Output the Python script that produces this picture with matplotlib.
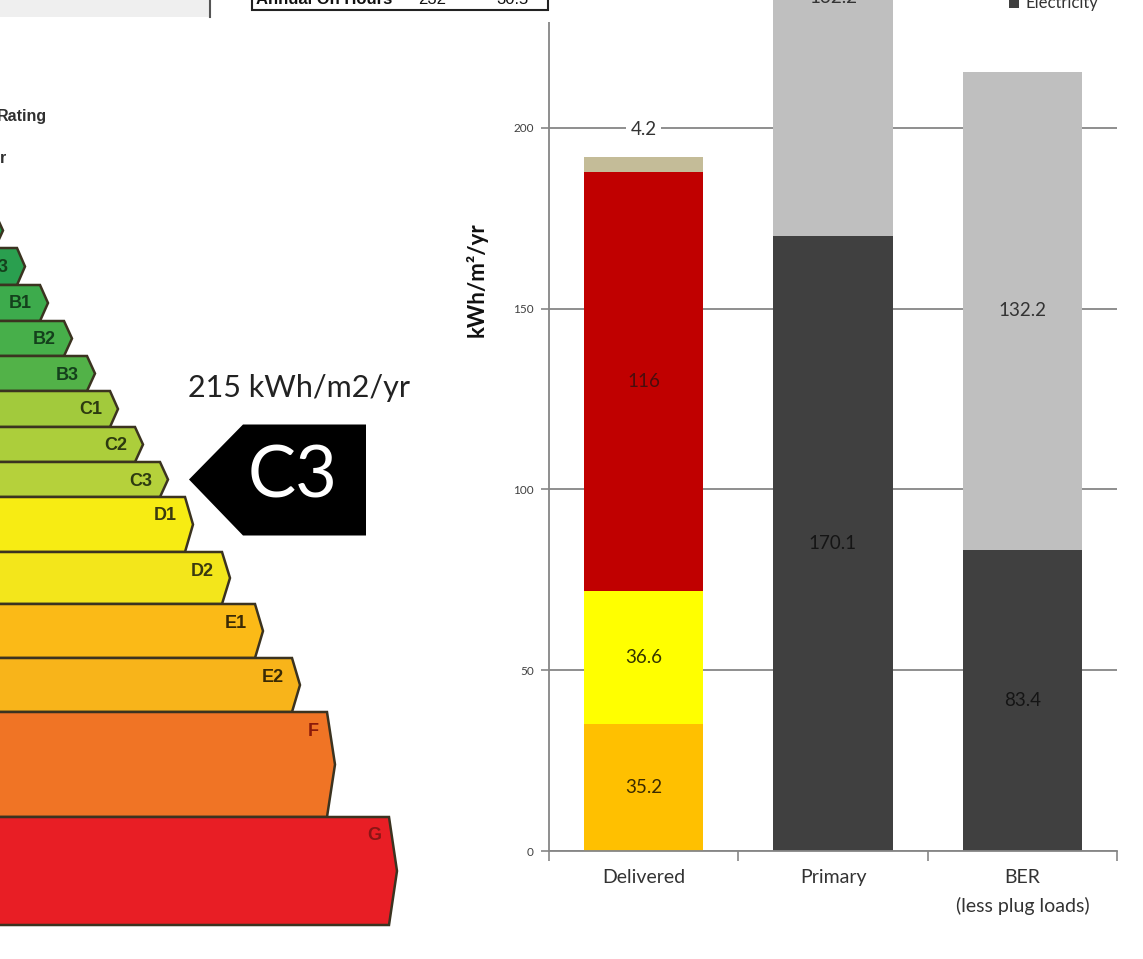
import matplotlib.pyplot as plt
from matplotlib.patches import Polygon, Rectangle

W, H = 1143, 959
PX = 3.615  # pixels per kWh/m2/yr on the bar chart

# stacked energy bars (kWh/m2/yr)
categories = ["Delivered", "Primary", "BER\n(less plug loads)"]
delivered_parts = [35.2, 36.6, 116, 4.2]
delivered_colors = ["#FFC000", "#FFFF00", "#C00000", "#C4BC98"]
delivered_text = ["#3a2a00", "#333300", "#4a0d0d", "#404040"]
electricity = [170.1, 83.4]        # Primary, BER
other_fuel = [132.2, 132.2]        # Primary, BER
y_ticks = [0, 50, 100, 150, 200]

# rating scale bands, top to bottom
bands = ["A1", "A2", "A3", "B1", "B2", "B3", "C1", "C2", "C3",
         "D1", "D2", "E1", "E2", "F", "G"]
band_heights = [35, 35, 37, 36, 35, 35, 36, 35, 35, 55, 52, 54, 54, 105, 108]
band_tips = [-20, 3, 25, 48, 72, 95, 118, 143, 168, 193, 230, 263, 300, 335, 397]
band_colors = ["#0b8a3e", "#1d9646", "#2a9f4f", "#3dab4c", "#47af4a", "#52b248",
               "#a2ca3c", "#acce3b", "#b5d13b", "#f7ec13", "#f3e61b",
               "#fbba17", "#f8b41a", "#f07425", "#e81e25"]
band_text = ["#14401c"] * 6 + ["#2d3a10"] * 3 + ["#3a3a10"] * 2 + \
            ["#3a2a05"] * 2 + ["#8b1a0a", "#8a1515"]
ber_value = 215
ber_band = "C3"

fig = plt.figure(figsize=(W / 100, H / 100), dpi=100)
fig.patch.set_facecolor("white")

# ---- rating scale, drawn in pixel units ----
bg = fig.add_axes([0, 0, 1, 1], zorder=0)
bg.set_xlim(0, W)
bg.set_ylim(H, 0)
bg.axis("off")

top = 178
band_pos = {}
for name, h, tip, c, tc in zip(bands, band_heights, band_tips, band_colors, band_text):
    d = 8
    pts = [(-40, top), (tip - d, top), (tip, top + h / 2), (tip - d, top + h), (-40, top + h)]
    bg.add_patch(Polygon(pts, closed=True, facecolor=c, edgecolor="#3b3320", lw=1.8))
    if tip > 20:
        bg.text(tip - 16, top + 19, name, ha="right", va="center", fontsize=13,
                fontweight="bold", color=tc, family="Liberation Sans")
    band_pos[name] = (tip, top + h / 2)
    top += h

bg.text(-3, 117, "Rating", ha="left", va="center", fontsize=11.5, fontweight="bold",
        color="#303030", family="Liberation Sans")
bg.text(7, 158, "kWh/m2/yr", ha="right", va="center", fontsize=11.5, fontweight="bold",
        color="#303030", family="Liberation Sans")

# pointer for the building's band
tx, ty = band_pos[ber_band]
ax0 = tx + 21
bg.add_patch(Polygon([(ax0, ty), (ax0 + 54, ty - 55), (ax0 + 177, ty - 55),
                      (ax0 + 177, ty + 56), (ax0 + 54, ty + 56)],
                     closed=True, facecolor="black", edgecolor="none"))
bg.text(ax0 + 104, ty - 2, ber_band, ha="center", va="center", fontsize=52,
        color="white", family="Lato")
bg.text(ax0 - 1, ty - 91, f"{ber_value} kWh/m2/yr", ha="left", va="center",
        fontsize=22, color="#222222", family="Lato")

# ---- stacked bar chart ----
ymax = 320
ax = fig.add_axes([549 / W, 108 / H, 568 / W, ymax * PX / H], zorder=1)
ax.patch.set_alpha(0)
ax.set_xlim(-0.5, 2.5)
ax.set_ylim(0, ymax)
width = 0.63

bottom = 0
for i, (v, c, tc) in enumerate(zip(delivered_parts, delivered_colors, delivered_text)):
    cont = ax.bar(0, v, width, bottom=bottom, color=c, zorder=2)
    if i < len(delivered_parts) - 1:
        ax.bar_label(cont, labels=[f"{v:g}"], label_type="center", fontsize=13.5,
                     color=tc, family="Lato")
    bottom += v
# small top segment labelled above the bar
ax.annotate(f"{delivered_parts[-1]:g}", xy=(0, bottom), xytext=(0, 27),
            textcoords="offset pixels", ha="center", va="center", fontsize=13.5,
            color="#333333", family="Lato",
            bbox=dict(boxstyle="square,pad=0.25", fc="white", ec="none"), zorder=3)

xs = [1, 2]
elec = ax.bar(xs, electricity, width, color="#404040", zorder=2, label="Electricity")
ax.bar_label(elec, labels=[f"{v:g}" for v in electricity], label_type="center",
             fontsize=13.5, color="#151515", family="Lato")
oth = ax.bar(xs, other_fuel, width, bottom=electricity, color="#BFBFBF", zorder=2)
ax.bar_label(oth, labels=[f"{v:g}" for v in other_fuel], label_type="center",
             fontsize=13.5, color="#333333", family="Lato")

grey = "#868686"
ax.set_yticks(y_ticks)
ax.yaxis.grid(True, color=grey, lw=1.3)
ax.set_axisbelow(True)
ax.tick_params(axis="y", length=6, width=1.2, color=grey, labelsize=8.5,
               labelcolor="#404040", pad=5)
for lab in ax.get_yticklabels():
    lab.set_family("Lato")
ax.set_xticks([-0.5, 0.5, 1.5, 2.5])
ax.set_xticklabels([])
ax.tick_params(axis="x", which="major", length=7, width=1.2, color=grey)
ax.set_xticks([0, 1, 2], minor=True)
ax.set_xticklabels(categories, minor=True, fontsize=14, color="#333333",
                   family="Lato", linespacing=1.7)
ax.tick_params(axis="x", which="minor", length=0, pad=13)
for s in ("top", "right"):
    ax.spines[s].set_visible(False)
for s in ("left", "bottom"):
    ax.spines[s].set_color(grey)
    ax.spines[s].set_linewidth(1.3)
ax.set_ylabel("kWh/m²/yr", fontsize=16, fontweight="bold", family="Lato", color="#111111")
ax.yaxis.set_label_coords((488 - 549) / 568, (851 - 280) / (ymax * PX))

fig.legend(handles=[elec], labels=["Electricity"], loc="upper left",
           bbox_to_anchor=(1009 / W, 1 + 5 / H), frameon=False,
           handlelength=0.6, handleheight=0.7, handletextpad=0.4,
           borderaxespad=0, borderpad=0, labelcolor="#333333",
           prop={"family": "Lato", "size": 12})

# ---- header strip above the charts ----
top_ax = fig.add_axes([0, 0, 1, 1], zorder=2)
top_ax.set_xlim(0, W)
top_ax.set_ylim(H, 0)
top_ax.axis("off")
top_ax.add_patch(Rectangle((-5, -5), 215, 22, facecolor="#efefef", edgecolor="none"))
top_ax.plot([210, 210], [-5, 17], color="#555555", lw=1.5)
top_ax.add_patch(Rectangle((244, -5), 316, 27, facecolor="white", edgecolor="none"))
top_ax.add_patch(Rectangle((252, -20), 296, 30, facecolor="white",
                           edgecolor="#222222", lw=1.5))
top_ax.text(256, 0, "Annual On Hours", ha="left", va="center", fontsize=12,
            fontweight="bold", color="#111111", family="Liberation Sans")
top_ax.text(432, 0, "232", ha="center", va="center", fontsize=12,
            color="#111111", family="Liberation Sans")
top_ax.text(512, 0, "30.5", ha="center", va="center", fontsize=12,
            color="#111111", family="Liberation Sans")

fig.savefig("out.png", dpi=100)
